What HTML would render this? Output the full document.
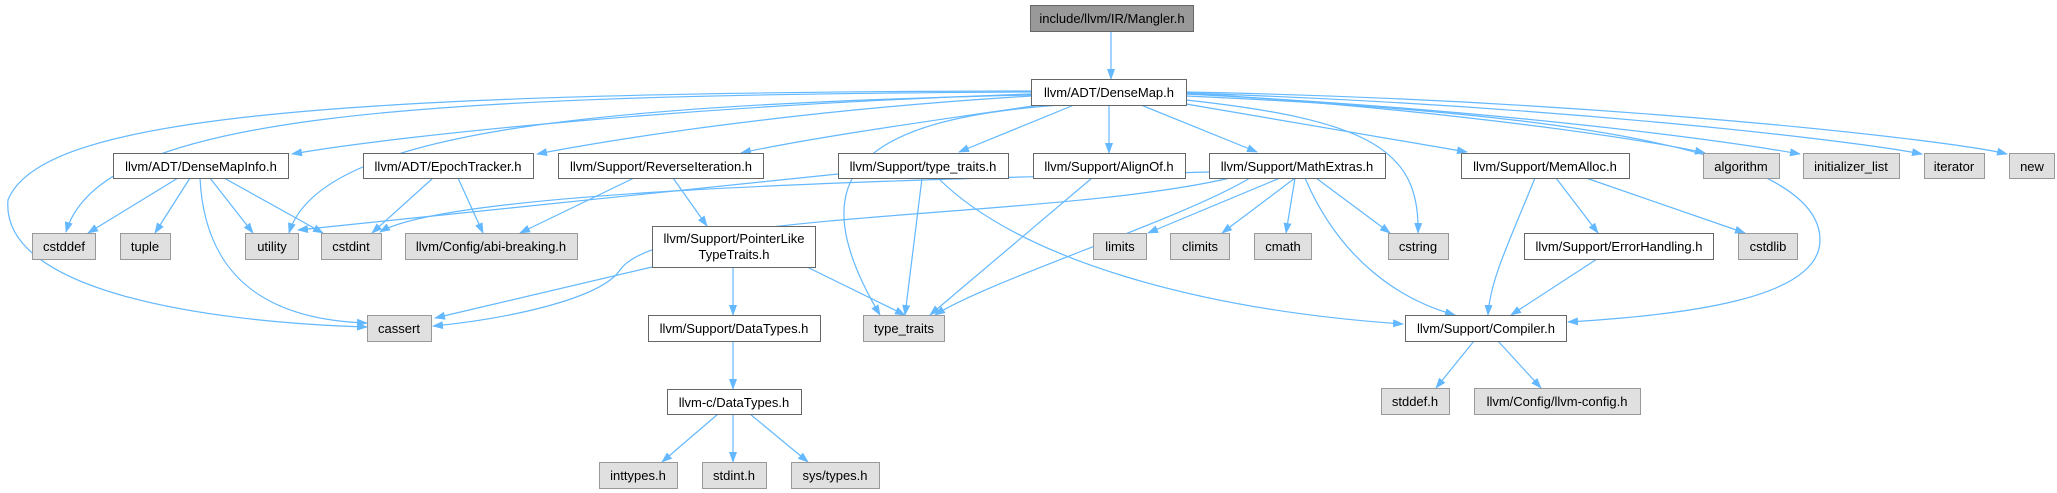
<!DOCTYPE html>
<html><head><meta charset="utf-8"><style>
html,body{margin:0;padding:0;background:#fff;}
svg{display:block;}
text{font-family:"Liberation Sans",Arial,sans-serif;font-size:13px;fill:#000;text-anchor:middle;}
.e{fill:none;stroke:#63b8ff;stroke-width:1.2;marker-end:url(#a);}
.w{fill:#fff;stroke:#666;}
.g{fill:#e0e0e0;stroke:#999;}
.m{fill:#999;stroke:#666;}
</style></head><body>
<svg width="2057" height="493" viewBox="0 0 2057 493" xmlns="http://www.w3.org/2000/svg">
<defs><marker id="a" markerUnits="userSpaceOnUse" markerWidth="11" markerHeight="8" refX="10" refY="4" orient="auto"><path d="M0,0 L11,4 L0,8 z" fill="#63b8ff"/></marker></defs>
<g>
<path class="e" d="M1111,31 L1111,79"/>
<path class="e" d="M1031,94 C700,105 400,135 292,154"/>
<path class="e" d="M1031,96 C800,110 620,138 537,154"/>
<path class="e" d="M1040,105 C900,125 800,140 741,153"/>
<path class="e" d="M1074,105 L959,152"/>
<path class="e" d="M1109,105 L1109,153"/>
<path class="e" d="M1141,105 L1257,152"/>
<path class="e" d="M1186,104 L1467,152"/>
<path class="e" d="M1186,93 C1450,110 1650,140 1705,153"/>
<path class="e" d="M1186,94 C1500,110 1720,140 1800,154"/>
<path class="e" d="M1186,93 C1550,105 1850,140 1922,154"/>
<path class="e" d="M1186,92 C1600,100 1950,140 2007,154"/>
<path class="e" d="M1031,92 C400,95 100,115 66,232"/>
<path class="e" d="M1031,91 C300,92 40,120 8,200 C0,290 200,322 367,327"/>
<path class="e" d="M1031,95 C600,105 320,130 289,233"/>
<path class="e" d="M1060,105 C850,120 800,180 880,315"/>
<path class="e" d="M1186,100 C1370,120 1420,150 1418,233"/>
<path class="e" d="M1186,96 C1500,110 1820,140 1820,240 C1820,300 1680,315 1568,322"/>
<path class="e" d="M178,178 L88,233"/>
<path class="e" d="M190,178 L155,233"/>
<path class="e" d="M210,178 L253,233"/>
<path class="e" d="M224,178 L323,233"/>
<path class="e" d="M200,178 C205,280 270,320 367,323"/>
<path class="e" d="M433,178 L372,233"/>
<path class="e" d="M458,178 L483,233"/>
<path class="e" d="M634,178 L520,233"/>
<path class="e" d="M673,178 L707,226"/>
<path class="e" d="M838,174 L298,230"/>
<path class="e" d="M922,178 L905,315"/>
<path class="e" d="M938,178 C1020,260 1200,310 1403,324"/>
<path class="e" d="M1092,178 L930,315"/>
<path class="e" d="M1209,172 C900,180 450,190 380,232"/>
<path class="e" d="M1230,178 C1050,220 660,210 620,270 C600,300 500,320 433,326"/>
<path class="e" d="M1250,178 C1180,220 990,280 935,315"/>
<path class="e" d="M1280,178 L1148,233"/>
<path class="e" d="M1295,178 L1222,233"/>
<path class="e" d="M1295,178 L1286,233"/>
<path class="e" d="M1316,178 L1390,233"/>
<path class="e" d="M1305,178 C1340,260 1400,300 1455,315"/>
<path class="e" d="M1535,178 C1510,240 1490,280 1488,315"/>
<path class="e" d="M1556,178 L1598,233"/>
<path class="e" d="M1586,178 L1745,233"/>
<path class="e" d="M1597,259 L1511,315"/>
<path class="e" d="M1474,341 L1436,388"/>
<path class="e" d="M1498,341 L1541,388"/>
<path class="e" d="M652,267 L435,318"/>
<path class="e" d="M733,267 L733,315"/>
<path class="e" d="M807,267 L905,315"/>
<path class="e" d="M733,341 L733,389"/>
<path class="e" d="M718,414 L662,462"/>
<path class="e" d="M733,414 L733,462"/>
<path class="e" d="M750,414 L808,462"/>
</g>
<g>
<rect class="m" x="1030.5" y="5.5" width="163" height="26"/><text x="1112" y="23">include/llvm/IR/Mangler.h</text>
<rect class="w" x="1031.5" y="79.5" width="155" height="26"/><text x="1109" y="97">llvm/ADT/DenseMap.h</text>
<rect class="w" x="113.5" y="153.5" width="175" height="25"/><text x="201" y="171">llvm/ADT/DenseMapInfo.h</text>
<rect class="w" x="363.5" y="153.5" width="170" height="25"/><text x="448" y="171">llvm/ADT/EpochTracker.h</text>
<rect class="w" x="558.5" y="153.5" width="205" height="25"/><text x="661" y="171">llvm/Support/ReverseIteration.h</text>
<rect class="w" x="838.5" y="153.5" width="170" height="25"/><text x="923" y="171">llvm/Support/type_traits.h</text>
<rect class="w" x="1033.5" y="153.5" width="152" height="25"/><text x="1109" y="171">llvm/Support/AlignOf.h</text>
<rect class="w" x="1209.5" y="153.5" width="176" height="25"/><text x="1297" y="171">llvm/Support/MathExtras.h</text>
<rect class="w" x="1461.5" y="153.5" width="168" height="25"/><text x="1545" y="171">llvm/Support/MemAlloc.h</text>
<rect class="g" x="1703.5" y="153.5" width="76" height="25"/><text x="1741" y="171">algorithm</text>
<rect class="g" x="1803.5" y="153.5" width="96" height="25"/><text x="1851" y="171">initializer_list</text>
<rect class="g" x="1924.5" y="153.5" width="60" height="25"/><text x="1954" y="171">iterator</text>
<rect class="g" x="2009.5" y="153.5" width="45" height="25"/><text x="2032" y="171">new</text>
<rect class="g" x="32.5" y="233.5" width="63" height="26"/><text x="64" y="251">cstddef</text>
<rect class="g" x="120.5" y="233.5" width="50" height="26"/><text x="145" y="251">tuple</text>
<rect class="g" x="245.5" y="233.5" width="53" height="26"/><text x="272" y="251">utility</text>
<rect class="g" x="321.5" y="233.5" width="60" height="26"/><text x="351" y="251">cstdint</text>
<rect class="g" x="405.5" y="233.5" width="172" height="26"/><text x="491" y="251">llvm/Config/abi-breaking.h</text>
<rect class="w" x="652.5" y="226.5" width="163" height="41"/><text x="734" y="243">llvm/Support/PointerLike</text><text x="734" y="259">TypeTraits.h</text>
<rect class="g" x="1093.5" y="233.5" width="53" height="26"/><text x="1120" y="251">limits</text>
<rect class="g" x="1170.5" y="233.5" width="59" height="26"/><text x="1200" y="251">climits</text>
<rect class="g" x="1254.5" y="233.5" width="57" height="26"/><text x="1283" y="251">cmath</text>
<rect class="g" x="1388.5" y="233.5" width="60" height="26"/><text x="1418" y="251">cstring</text>
<rect class="w" x="1524.5" y="233.5" width="189" height="26"/><text x="1619" y="251">llvm/Support/ErrorHandling.h</text>
<rect class="g" x="1738.5" y="233.5" width="59" height="26"/><text x="1768" y="251">cstdlib</text>
<rect class="g" x="367.5" y="315.5" width="64" height="26"/><text x="399" y="333">cassert</text>
<rect class="w" x="648.5" y="315.5" width="172" height="26"/><text x="734" y="333">llvm/Support/DataTypes.h</text>
<rect class="g" x="863.5" y="315.5" width="81" height="26"/><text x="904" y="333">type_traits</text>
<rect class="w" x="1405.5" y="315.5" width="161" height="26"/><text x="1486" y="333">llvm/Support/Compiler.h</text>
<rect class="w" x="667.5" y="389.5" width="134" height="25"/><text x="734" y="407">llvm-c/DataTypes.h</text>
<rect class="g" x="1381.5" y="388.5" width="68" height="26"/><text x="1415" y="406">stddef.h</text>
<rect class="g" x="1474.5" y="388.5" width="166" height="26"/><text x="1557" y="406">llvm/Config/llvm-config.h</text>
<rect class="g" x="599.5" y="462.5" width="78" height="26"/><text x="638" y="480">inttypes.h</text>
<rect class="g" x="702.5" y="462.5" width="64" height="26"/><text x="734" y="480">stdint.h</text>
<rect class="g" x="791.5" y="462.5" width="88" height="26"/><text x="835" y="480">sys/types.h</text>
</g>
</svg>
</body></html>
